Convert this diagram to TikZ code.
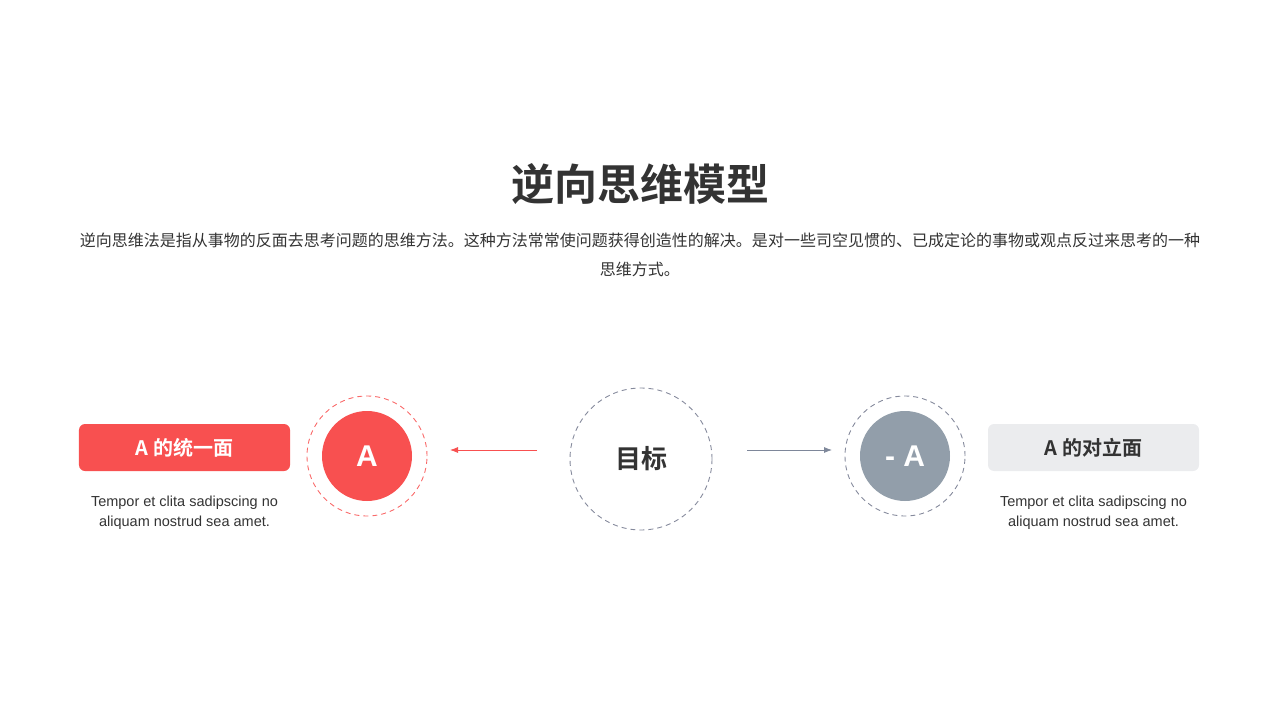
\documentclass[tikz,border=0pt]{standalone}
\usepackage{fontspec}
\usetikzlibrary{arrows.meta}
\setmainfont{Liberation Sans}
\newfontfamily\cjk{Noto Sans CJK SC}
\newfontfamily\cjkb{Noto Sans CJK SC Bold}
\definecolor{myred}{HTML}{F85050}
\definecolor{mygray}{HTML}{929EAA}
\definecolor{boxgray}{HTML}{EBECEE}
\definecolor{txt}{HTML}{333333}
\definecolor{dashgray}{HTML}{858A9C}
\definecolor{arrgray}{HTML}{7E879A}
\begin{document}
\begin{tikzpicture}[x=1bp,y=-1bp,
  lbox/.style={rounded corners=6bp,minimum width=211bp,minimum height=47bp,inner sep=0pt},
  disc/.style={circle,minimum size=90bp,inner sep=0pt},
  ring/.style={circle,dashed,dash pattern=on 5bp off 4bp,line width=0.9bp,inner sep=0pt},
  desc/.style={align=center,font=\fontsize{14.5bp}{20bp}\selectfont,text=txt}]
\useasboundingbox (0,0) rectangle (1280,720);
\node[font=\cjkb\fontsize{43bp}{48bp}\selectfont,text=txt] (title) at (640,184.5) {逆向思维模型};
\node[font=\cjk\fontsize{16bp}{29bp}\selectfont,text=txt,align=center] (intro) at (640,255)
 {逆向思维法是指从事物的反面去思考问题的思维方法。这种方法常常使问题获得创造性的解决。是对一些司空见惯的、已成定论的事物或观点反过来思考的一种\\思维方式。};
% left
\node[lbox,fill=myred,text=white,font=\cjkb\fontsize{20bp}{24bp}\selectfont] (lb) at (184.5,447.5) {A 的统一面};
\node[desc] (ld) at (184.5,513) {Tempor et clita sadipscing no\\aliquam nostrud sea amet.};
\node[ring,draw=myred!85,minimum size=120bp] (lr) at (367,456) {};
\node[disc,fill=myred,text=white,font=\bfseries\fontsize{30bp}{34bp}\selectfont] (la) at (367,456) {A};
% center
\node[ring,draw=dashgray,minimum size=142bp,font=\cjkb\fontsize{26bp}{30bp}\selectfont,text=txt] (goal) at (641,459) {目标};
% right
\node[ring,draw=dashgray,minimum size=120bp] (rr) at (905,456) {};
\node[disc,fill=mygray,text=white,font=\bfseries\fontsize{30bp}{34bp}\selectfont] (ra) at (905,456) {- A};
\node[lbox,fill=boxgray,text=txt,font=\cjkb\fontsize{20bp}{24bp}\selectfont] (rb) at (1093.5,447.5) {A 的对立面};
\node[desc] (rd) at (1093.5,513) {Tempor et clita sadipscing no\\aliquam nostrud sea amet.};
% arrows
\coordinate (lstart) at (537,450);
\coordinate (lend) at (450,450);
\coordinate (rstart) at (747,450);
\coordinate (rend) at (832,450);
\draw[myred,line width=0.8bp,-{Latex[length=8bp,width=6bp]}] (lstart) -- (lend);
\draw[arrgray,line width=0.8bp,-{Latex[length=8bp,width=6bp]}] (rstart) -- (rend);
\end{tikzpicture}
\end{document}
